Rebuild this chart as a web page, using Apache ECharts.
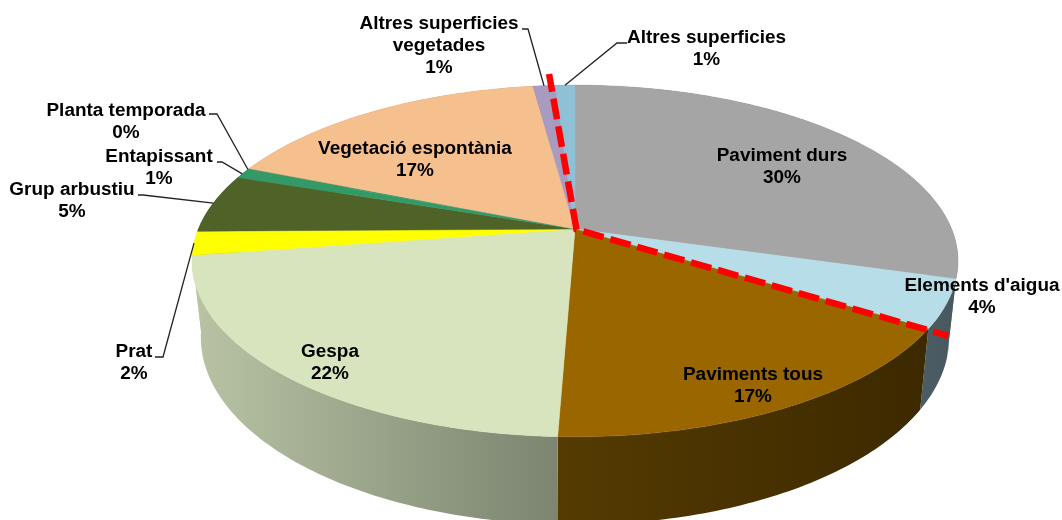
<!DOCTYPE html>
<html>
<head>
<meta charset="utf-8">
<style>html,body{margin:0;padding:0;background:#fff}#c{width:1062px;height:520px}</style>
<script src="https://cdn.jsdelivr.net/npm/echarts@6/dist/echarts.min.js"></script>
</head>
<body>
<div id="c"></div>
<script>
// --- data (clockwise from 12 o'clock) ---
const categories = ['Paviment durs', "Elements d'aigua", 'Paviments tous', 'Gespa', 'Prat', 'Grup arbustiu', 'Entapissant', 'Planta temporada', 'Vegetació espontània', 'Altres superficies vegetades', 'Altres superficies'];
const shares = [29.5, 4.4, 16.7, 22, 2.2, 5.4, 0.8, 0.2, 16.7, 1.1, 1];

// --- styles ---
const topColors = ['#a5a5a5', '#b7dde8', '#996600', '#d7e4bd', '#ffff00', '#4f6228', '#339966', '#339966', '#f6bf8e', '#a99bc0', '#8fc0d5'];
const wallLeft = ['#6e6e6e', '#4c5c64', '#553b02', '#b9c3a4', '#b9c3a4', '#35421b', '#226644', '#226644', '#a47f5f', '#716780', '#60808e'];
const wallRight = ['#6e6e6e', '#48585f', '#3c2900', '#7b8570', '#b9c3a4', '#35421b', '#226644', '#226644', '#a47f5f', '#716780', '#60808e'];

// --- tilted disc geometry (perspective view of a circle) ---
const view = {cx: 575, cy: 229, a: 376.6, b: 170, k: 0.1818, lowX: 0.977, lowY: 1.065, drop: 74.4};
const total = shares.reduce((s, v) => s + v, 0);
function rim(pct, r) {
  const t = pct / total * 2 * Math.PI, u = Math.sin(t) * (r || 1), v = -Math.cos(t) * (r || 1);
  const w = 1 - view.k * v;
  return [view.cx + view.a * u / w, view.cy + view.b * v / w];
}
function lowRim(pct) {
  const p = rim(pct);
  return [view.cx + view.lowX * (p[0] - view.cx), view.cy + view.lowY * (p[1] - view.cy) + view.drop];
}
function arc(fn, from, to) {
  const out = [], n = Math.max(2, Math.ceil((to - from) * 4));
  for (let i = 0; i <= n; i++) out.push(fn(from + (to - from) * i / n));
  return out;
}
const starts = [];
shares.reduce((s, v, i) => (starts[i] = s, s + v), 0);

// --- annotation layout: text centre, first line y, elbow start/end, elbow y ---
const labelLayout = [
  {x: 782, y: 156},
  {x: 982, y: 286},
  {x: 753, y: 375},
  {x: 330, y: 352},
  {x: 134, y: 352, e: [155, 163, 357]},
  {x: 72,  y: 190, e: [138, 143, 195]},
  {x: 159, y: 157, e: [217, 222, 162]},
  {x: 126, y: 111, e: [209, 217, 114]},
  {x: 415, y: 149},
  {x: 439, y: 24, e: [522, 528, 29], lines: ['Altres superficies', 'vegetades']},
  {x: 706.5, y: 38, e: [627, 617, 43]}
];
const redLine = [{pct: 98.8, reach: 1.096}, {pct: 34, reach: 1.053}];
const font = 'bold 18px "Liberation Sans", Arial, sans-serif';
const textStretch = 1.053;

const chart = echarts.init(document.getElementById('c'), null, {renderer: 'canvas'});
chart.setOption({
  backgroundColor: '#ffffff',
  animation: false,
  series: [
    { // side walls
      type: 'custom', coordinateSystem: 'none', name: 'walls', silent: true, z: 1,
      data: shares,
      renderItem(params, api) {
        const i = params.dataIndex, s = starts[i], e = s + shares[i];
        const pts = arc(rim, s, e).concat(arc(lowRim, s, e).reverse());
        const fill = new echarts.graphic.LinearGradient(0, 0, 1, 0, [
          {offset: 0, color: wallLeft[i]}, {offset: 1, color: wallRight[i]}]);
        return {type: 'polygon', shape: {points: pts}, style: {fill: fill, stroke: null}};
      }
    },
    { // top faces
      type: 'custom', coordinateSystem: 'none', name: 'tops', silent: true, z: 2,
      data: shares,
      renderItem(params, api) {
        const i = params.dataIndex, s = starts[i], e = s + shares[i];
        const pts = [[view.cx, view.cy]].concat(arc(rim, s, e));
        return {type: 'polygon', shape: {points: pts}, style: {fill: topColors[i], stroke: topColors[i], lineWidth: 0.5}};
      }
    },
    { // red dashed line
      type: 'custom', coordinateSystem: 'none', name: 'limit', silent: true, z: 3,
      data: [0],
      renderItem() {
        return {type: 'polyline', shape: {points: [rim(redLine[0].pct, redLine[0].reach), [576.5, 229.5], rim(redLine[1].pct, redLine[1].reach)]},
          style: {fill: null, stroke: '#ff0000', lineWidth: 6.5, lineDash: [21, 7], lineDashOffset: 3, lineJoin: 'miter'}};
      }
    },
    { // labels and leaders
      type: 'custom', coordinateSystem: 'none', name: 'labels', silent: true, z: 4,
      data: shares,
      renderItem(params) {
        const i = params.dataIndex, L = labelLayout[i];
        const lines = (L.lines || [categories[i]]).concat([Math.round(shares[i]) + '%']);
        const children = lines.map((t, n) => ({
          type: 'text', x: L.x, y: L.y + n * 22, scaleX: textStretch,
          style: {x: 0, y: 0, text: t, font: font, fill: '#000000', align: 'center', verticalAlign: 'middle',
            shadowColor: 'rgba(0,0,0,0.35)', shadowBlur: 1}
        }));
        if (L.e) {
          const end = rim(starts[i] + shares[i] / 2);
          children.push({type: 'polyline', z2: -1, shape: {points: [[L.e[0], L.e[2]], [L.e[1], L.e[2]], end]},
            style: {fill: null, stroke: '#222222', lineWidth: 1.3}});
        }
        return {type: 'group', children: children};
      }
    }
  ]
});
</script>
</body>
</html>
